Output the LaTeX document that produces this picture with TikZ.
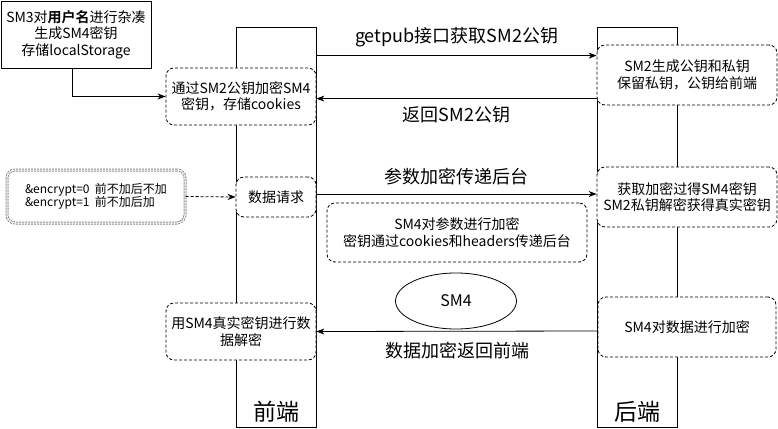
\documentclass[tikz,border=0pt]{standalone}
\usepackage{fontspec}
\setmainfont{Noto Sans CJK SC}[BoldFont={Noto Sans CJK SC Bold}]
\usetikzlibrary{arrows.meta,shapes.geometric}
\tikzset{
  lane/.style={draw, minimum width=80pt, minimum height=400pt, inner sep=0pt},
  lanename/.style={inner sep=0pt, font=\fontsize{23}{26}\selectfont},
  box/.style={draw, fill=white, dash pattern=on 3pt off 2pt, rounded corners=8pt, align=center, inner sep=0pt, font=\fontsize{14}{16.5}\selectfont},
  msg/.style={-{Stealth[length=8pt,width=6pt,inset=2.5pt]}},
  msgtext/.style={inner sep=0pt, font=\fontsize{18}{20}\selectfont},
}

\begin{document}
\begin{tikzpicture}[x=1pt, y=-1pt, line width=0.8pt]
\useasboundingbox (0,0) rectangle (778,428);
\node[lane] (fe) at (276,227) {};
\node[lane] (be) at (637,227) {};
\node[lanename] (fename) at (276,412) {前端};
\node[lanename] (bename) at (637,412) {后端};

\node[draw, fill=white, align=center, inner sep=0pt, minimum width=150pt, minimum height=67pt, font=\fontsize{14}{16.5}\selectfont] (sm3) at (76,34.5) {SM3对\textbf{用户名}进行杂凑\\生成SM4密钥\\存储localStorage};
\node[box, minimum width=150pt, minimum height=57pt] (keyenc) at (241,96.5) {通过SM2公钥加密SM4\\密钥，存储cookies};
\node[box, minimum width=180pt, minimum height=60pt] (genkey) at (687,75) {SM2生成公钥和私钥\\保留私钥，公钥给前端};
\node[draw=gray!90, fill=white, line width=1pt, double, double distance=1pt, dash pattern=on 2pt off 1pt, rounded corners=8pt, align=left, inner sep=0pt, minimum width=178pt, minimum height=53pt, font=\fontsize{12}{13}\selectfont] (flag) at (96,196.5) {\&encrypt=0\ \ 前不加后不加\\\&encrypt=1\ \ 前不加后加};
\node[box, minimum width=80pt, minimum height=40pt] (req) at (276,197) {数据请求};
\node[box, minimum width=180pt, minimum height=60pt] (getkey) at (687,197) {获取加密过得SM4密钥\\SM2私钥解密获得真实密钥};
\node[box, minimum width=260pt, minimum height=59pt] (param) at (457,232.5) {SM4对参数进行加密\\密钥通过cookies和headers传递后台};
\node[draw, ellipse, inner sep=0pt, minimum width=121pt, minimum height=56pt, font=\fontsize{16}{18}\selectfont] (sm4) at (456,301) {SM4};
\node[box, minimum width=150pt, minimum height=57pt] (decrypt) at (241,331.5) {用SM4真实密钥进行数\\据解密};
\node[box, minimum width=178pt, minimum height=60pt] (encdata) at (687,327) {SM4对数据进行加密};

\draw[msg] ([xshift=-4pt]sm3.south) |- (keyenc.west);
\draw[msg] ([yshift=-29pt]fe.north east) -- ([yshift=-29pt]be.north west) node[msgtext, midway, yshift=18pt] (getpubtext) {getpub接口获取SM2公钥};
\draw[msg] ([yshift=-72pt]be.north west) -- ([yshift=-72pt]fe.north east) node[msgtext, midway, yshift=-16pt] (backtext) {返回SM2公钥};
\draw[msg, dash pattern=on 3pt off 2pt] (flag.east) -- (req.west);
\draw[msg] ([yshift=3pt]req.east) -- ([yshift=3pt]getkey.west) node[msgtext, midway, yshift=17pt] (paramtext) {参数加密传递后台};
\draw[msg] ([yshift=-4pt]encdata.west) -- (decrypt.east) node[msgtext, midway, yshift=-19pt] (datatext) {数据加密返回前端};
\end{tikzpicture}
\end{document}
